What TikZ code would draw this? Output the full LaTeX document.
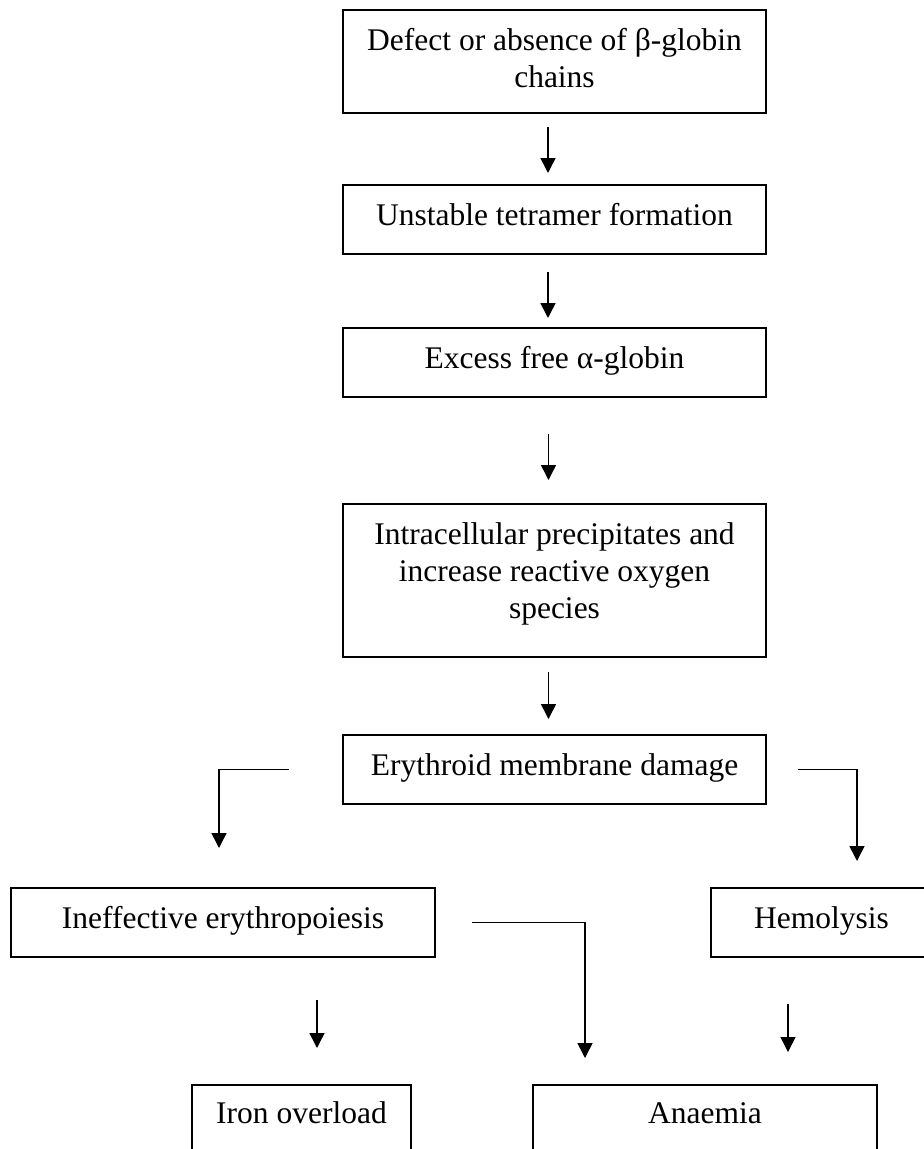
\documentclass[tikz,border=0pt]{standalone}
\usepackage{fontspec}
\setmainfont{Liberation Serif}
\usetikzlibrary{arrows.meta}
\begin{document}
\begin{tikzpicture}[x=1pt,y=-1pt,
  every node/.style={font=\fontsize{31.5}{37}\selectfont},
  box/.style={draw, line width=1.6pt, inner xsep=0pt, inner ysep=0pt,
    text height=41pt, text depth=28pt, anchor=north},
  arr/.style={line width=1.5pt, -{Triangle[width=15pt,length=15pt]}}]
\clip (0,0) rectangle (924,1149);
\node[box, minimum width=423pt, text depth=62pt] (b1) at (554.5,9)
  {\begin{tabular}[t]{@{}c@{}}Defect or absence of β-globin\\chains\end{tabular}};
\node[box, minimum width=423pt] (b2) at (554.5,184) {Unstable tetramer formation};
\node[box, minimum width=423pt] (b3) at (554.5,327) {Excess free α-globin};
\node[box, minimum width=423pt, text depth=112pt] (b4) at (554.5,503)
  {\begin{tabular}[t]{@{}c@{}}Intracellular precipitates and\\increase reactive oxygen\\species\end{tabular}};
\node[box, minimum width=423pt] (b5) at (554.5,734) {Erythroid membrane damage};
\node[box, minimum width=424pt] (b6) at (223,887) {Ineffective erythropoiesis};
\node[box, minimum width=221pt] (b7) at (821.5,887) {Hemolysis};
\node[box, minimum width=219pt, text height=39pt, text depth=80pt] (b8) at (301.5,1084) {Iron overload};
\node[box, minimum width=344pt, text height=39pt, text depth=80pt] (b9) at (705,1084) {Anaemia};

\draw[arr, shorten <=13pt, shorten >=11pt] ([xshift=-6.5pt]b1.south) -- ([xshift=-6.5pt]b2.north);
\draw[arr, shorten <=17pt, shorten >=9pt] ([xshift=-6.5pt]b2.south) -- ([xshift=-6.5pt]b3.north);
\draw[arr, shorten <=36pt, shorten >=23pt] ([xshift=-6pt]b3.south) -- ([xshift=-6pt]b4.north);
\draw[arr, shorten <=14pt, shorten >=15pt] ([xshift=-6pt]b4.south) -- ([xshift=-6pt]b5.north);

\draw[arr] ([xshift=-53pt]b5.west) -| ([xshift=-4pt,yshift=39pt]b6.north);
\draw[arr] ([xshift=31pt]b5.east) -| ([xshift=35.5pt,yshift=26pt]b7.north);
\draw[arr] ([xshift=36pt]b6.east) -| ([xshift=-120pt,yshift=26pt]b9.north);
\draw[arr] ([xshift=94pt,yshift=-42pt]b6.south) -- ([xshift=15.5pt,yshift=36pt]b8.north);
\draw[arr] ([xshift=-33.5pt,yshift=-46pt]b7.south) -- ([xshift=83pt,yshift=32pt]b9.north);
\end{tikzpicture}
\end{document}
